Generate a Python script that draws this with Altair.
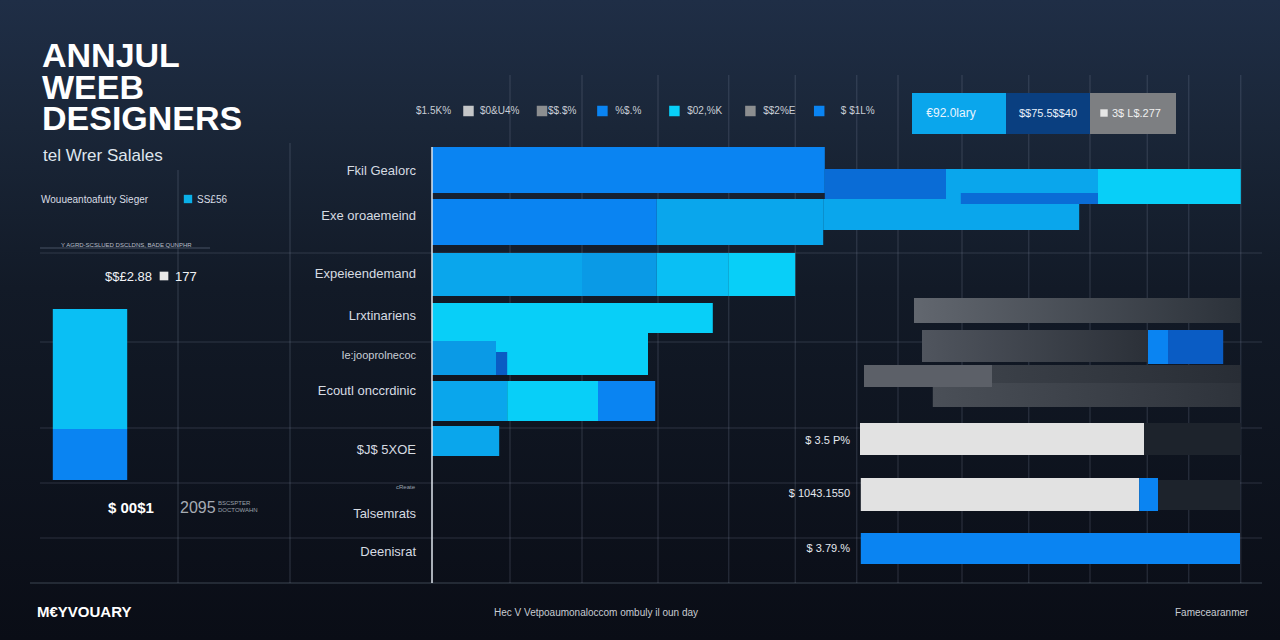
import altair as alt
import pandas as pd

# ---------------- data ----------------
# stacked / overlapping salary segments (salary units, row-position units)
seg_start = [0, 49.1, 64.25, 83.25, 0, 28.1, 48.9, 0, 18.75, 28.1, 37.1, 0, 0, 0, 8, 0, 9.4, 20.75, 0,
             54, 89.5, 92, 53.5, 89, 53.6, 88.4, 90.75, 53.6, -47.4, -47.4, 60, 71.75, 82.25, 66.1]
seg_end = [49.1, 64.25, 83.25, 101.1, 28.1, 48.9, 80.9, 18.75, 28.1, 37.1, 45.4, 35.1, 27, 8, 9.4, 9.4, 20.75, 27.9, 8.4,
           70, 92, 98.9, 89, 101.1, 88.4, 90.75, 101, 101, -38.1, -38.1, 71.75, 82.25, 93, 83.25]
seg_top = [14.7, 16.9, 16.9, 16.9, 19.9, 19.9, 19.9, 25.3, 25.3, 25.3, 25.3, 30.3, 33.3, 34.1, 35.2, 38.1, 38.1, 38.1, 42.6,
           36.5, 33.0, 33.0, 42.3, 42.3, 47.8, 47.8, 48.0, 53.3, 30.9, 42.9, 9.3, 9.3, 9.3, 19.3]
seg_bottom = [19.3, 20.4, 20.4, 20.4, 24.5, 24.5, 23.0, 29.6, 29.6, 29.6, 29.6, 33.3, 37.5, 37.5, 37.5, 42.1, 42.1, 42.1, 45.6,
              38.7, 36.4, 36.4, 45.5, 45.5, 51.1, 51.1, 51.0, 56.4, 42.9, 48.0, 13.4, 13.4, 13.4, 20.4]
seg_tier = ["blue", "deep", "sky", "cyan", "blue", "sky", "sky", "sky", "mid", "aqua", "cyan", "cyan", "cyan", "mid", "navy",
            "sky", "cyan", "blue", "sky", "grey", "blue", "navy", "light", "dark", "light", "blue", "dark", "blue",
            "aqua", "blue", "sky", "ink", "steel", "deep"]

tier_names = ["blue", "deep", "sky", "mid", "cyan", "aqua", "navy", "light", "grey", "dark", "ink", "steel", "silver", "ash"]
tier_colors = ["#0a84f2", "#0a6cd6", "#0aa6ec", "#0a9ae6", "#08cff8", "#0abff4", "#0a5cc4", "#e2e2e2", "#5c6068",
               "#1d232c", "#0a3f80", "#7d7f82", "#c4c6c8", "#8c8e90"]

# faded grey bars (start, end, top, bottom)
fade_start = [60.25, 61.25, 70, 62.6]
fade_end = [101.1, 89.5, 101.1, 101.1]
fade_top = [29.8, 33.0, 36.5, 38.3]
fade_bottom = [32.3, 36.2, 38.4, 40.7]

# row labels
row_labels = ["Fkil Gealorc", "Exe oroaemeind", "Expeieendemand", "Lrxtinariens", "Ecoutl onccrdinic",
              "$J$ 5XOE", "Talsemrats", "Deenisrat"]
row_label_y = [17.1, 21.6, 27.4, 31.6, 39.1, 45.0, 51.4, 55.2]

# value labels on the right bars
value_labels = ["$ 3.5 P%", "$ 1043.1550", "$ 3.79.%"]
value_label_y = [44.1, 49.4, 54.9]

# top legend
legend_labels = ["$1.5K%", "$0&U4%", "$$.$%", "%$.%", "$02,%K", "$$2%E", "$ $1L%"]
legend_label_x = [-2, 6, 14.5, 22.9, 31.9, 41.4, 51.1]
legend_sq_x = [4.56, 13.75, 21.3, 30.3, 39.8, 48.4]
legend_sq_tier = ["silver", "ash", "blue", "cyan", "ash", "blue"]

# grid
grid_x = [9.75, 18.75, 28.25, 37.1, 45.4, 53.1, 58.25, 66.25, 74.6, 82.25, 89.4, 94.6, 101.1]
grid_y = [25.3, 34.2, 42.8, 48.3, 53.8]

FONT = "Liberation Sans"
xs = alt.Scale(domain=[-54, 106], nice=False, zero=False)
ys = alt.Scale(domain=[0, 64], reverse=True, nice=False, zero=False)
tier_scale = alt.Scale(domain=tier_names, range=tier_colors)
ONE = alt.Data(values=[{"a": 1}])

seg_df = pd.DataFrame({"start": seg_start, "end": seg_end, "top": seg_top, "bottom": seg_bottom, "tier": seg_tier})


def txt(s, x, y, size=12, color="#d8dde4", weight="normal", align="left", font=FONT, **kw):
    return alt.Chart(ONE).mark_text(x=x, y=y, fontSize=size, color=color, fontWeight=weight, align=align,
                                    baseline="alphabetic", font=font, **kw).encode(text=alt.value(s))


layers = []

# background
layers.append(alt.Chart(ONE).mark_rect(color=alt.Gradient(
    gradient="linear", x1=0, x2=0, y1=0, y2=1,
    stops=[alt.GradientStop(color="#1f2e46", offset=0), alt.GradientStop(color="#1a2638", offset=0.2),
           alt.GradientStop(color="#121a27", offset=0.45), alt.GradientStop(color="#0a0d16", offset=1)]
)).encode(x=alt.value(0), x2=alt.value(1280), y=alt.value(0), y2=alt.value(640)))

# grid lines
grid_col = "#8895a8"
layers.append(alt.Chart(pd.DataFrame({"g": grid_x})).mark_rule(color=grid_col, opacity=0.28, strokeWidth=1).encode(
    x=alt.X("g:Q", scale=xs, axis=None), y=alt.value(75), y2=alt.value(583)))
layers.append(alt.Chart(pd.DataFrame({"h": grid_y})).mark_rule(color=grid_col, opacity=0.25, strokeWidth=1).encode(
    y=alt.Y("h:Q", scale=ys, axis=None), x=alt.value(40), x2=alt.value(1262)))
layers.append(alt.Chart(ONE).mark_rule(color=grid_col, opacity=0.3).encode(
    x=alt.value(178), y=alt.value(170), y2=alt.value(583)))
layers.append(alt.Chart(ONE).mark_rule(color=grid_col, opacity=0.3).encode(
    x=alt.value(290), y=alt.value(143), y2=alt.value(583)))
layers.append(alt.Chart(ONE).mark_rule(color=grid_col, opacity=0.45).encode(
    x=alt.value(40), x2=alt.value(210), y=alt.value(248)))
layers.append(alt.Chart(ONE).mark_rule(color=grid_col, opacity=0.4).encode(
    x=alt.value(30), x2=alt.value(1262), y=alt.value(583)))

# faded grey bars
fade_colors = [("#62676f", "#2c323a"), ("#50555e", "#2b3038"), ("#3b4048", "#282d35"), ("#4a4f57", "#2e333b")]
for i in range(len(fade_start)):
    d = pd.DataFrame({"start": [fade_start[i]], "end": [fade_end[i]], "top": [fade_top[i]], "bottom": [fade_bottom[i]]})
    c1, c2 = fade_colors[i]
    layers.append(alt.Chart(d).mark_rect(color=alt.Gradient(
        gradient="linear", x1=0, x2=1, y1=0, y2=0,
        stops=[alt.GradientStop(color=c1, offset=0), alt.GradientStop(color=c2, offset=1)])).encode(
        x=alt.X("start:Q", scale=xs, axis=None), x2="end",
        y=alt.Y("top:Q", scale=ys, axis=None), y2="bottom"))

# main segments
layers.append(alt.Chart(seg_df).mark_rect().encode(
    x=alt.X("start:Q", scale=xs, axis=None), x2="end",
    y=alt.Y("top:Q", scale=ys, axis=None), y2="bottom",
    color=alt.Color("tier:N", scale=tier_scale, legend=None)))

# axis line
layers.append(alt.Chart(ONE).mark_rule(color="#dfe6ee", strokeWidth=1.5).encode(
    x=alt.value(432), y=alt.value(147), y2=alt.value(583)))

# legend squares
layers.append(alt.Chart(pd.DataFrame({"x": legend_sq_x, "tier": legend_sq_tier, "y": [11.1] * 6})).mark_square(
    size=110, opacity=1).encode(
    x=alt.X("x:Q", scale=xs, axis=None), y=alt.Y("y:Q", scale=ys, axis=None),
    color=alt.Color("tier:N", scale=tier_scale, legend=None)))
layers.append(alt.Chart(pd.DataFrame({"x": legend_label_x, "t": legend_labels, "y": [11.1] * 7})).mark_text(
    align="left", baseline="middle", fontSize=10, color="#c9ced6", font=FONT).encode(
    x=alt.X("x:Q", scale=xs, axis=None), y=alt.Y("y:Q", scale=ys, axis=None), text="t:N"))

# row labels
layers.append(alt.Chart(pd.DataFrame({"t": row_labels, "y": row_label_y, "x": [-2] * len(row_labels)})).mark_text(
    align="right", baseline="middle", fontSize=13, color="#d6dbe2", font=FONT).encode(
    x=alt.X("x:Q", scale=xs, axis=None), y=alt.Y("y:Q", scale=ys, axis=None), text="t:N"))
layers.append(txt("Ie:jooprolnecoc", 416, 359, size=11, color="#c9ced6", align="right"))
layers.append(txt("cReate", 415, 489, size=6, color="#9aa2ae", align="right"))

# value labels
layers.append(alt.Chart(pd.DataFrame({"t": value_labels, "y": value_label_y, "x": [52.25] * 3})).mark_text(
    align="right", baseline="middle", fontSize=11, color="#e4e8ee", font=FONT).encode(
    x=alt.X("x:Q", scale=xs, axis=None), y=alt.Y("y:Q", scale=ys, axis=None), text="t:N"))

# legend box texts
layers.append(txt("€92.0lary", 951, 117, size=12, color="#e8f4ff", align="center"))
layers.append(txt("$$75.5$$40", 1048, 117, size=11, color="#e8f0fa", align="center"))
layers.append(alt.Chart(ONE).mark_square(size=55, color="#e6e6e6", opacity=1).encode(
    x=alt.value(1104), y=alt.value(113)))
layers.append(txt("3$ L$.277", 1112, 117, size=11, color="#f0f0f0"))

# title block (one multi-line text)
layers.append(alt.Chart(ONE).mark_text(
    x=42, y=67, fontSize=34, color="#ffffff", fontWeight="bold", align="left", baseline="alphabetic",
    font=FONT, lineBreak="\n", lineHeight=31.5
).encode(text=alt.value("ANNJUL\nWEEB\n\u2009DESIGNERS")))
layers.append(txt("tel Wrer Salales", 43, 161, size=17, color="#dfe6ee"))
layers.append(txt("Wouueantoafutty Sieger", 41, 203, size=10, color="#d8dde4"))
layers.append(alt.Chart(ONE).mark_square(size=70, color="#0ab0e8", opacity=1).encode(
    x=alt.value(188), y=alt.value(199)))
layers.append(txt("SS£56", 197, 203, size=10, color="#d8dde4"))
layers.append(txt("Y AGRD-SCSLUED DSCLDNS, BADE QUNPHR", 61, 247, size=6, color="#b8bec8"))
layers.append(txt("$$£2.88", 105, 281, size=13, color="#f0f2f5"))
layers.append(alt.Chart(ONE).mark_square(size=75, color="#e8e8e8", opacity=1).encode(
    x=alt.value(164), y=alt.value(276)))
layers.append(txt("177", 175, 281, size=13, color="#f0f2f5"))
layers.append(txt("$ 00$1", 108, 513, size=15, color="#ffffff", weight="bold"))
layers.append(txt("2095", 180, 513, size=16, color="#a6abb3"))
layers.append(txt("BSCSPTER", 218, 505, size=6, color="#9aa0a8"))
layers.append(txt("DOCTOWAHN", 218, 512, size=6, color="#9aa0a8"))

# footer
layers.append(txt("M€YVOUARY", 37, 617, size=15, color="#ffffff", weight="bold"))
layers.append(txt("Hec V Vetpoaumonaloccom ombuly il oun day", 494, 616, size=10, color="#c8ccd2"))
layers.append(txt("Famecearanmer", 1175, 616, size=10, color="#c8ccd2"))

chart = alt.layer(*layers).properties(
    width=1280, height=640, autosize=alt.AutoSizeParams(type="none"), padding=0, background="#0d1420"
).configure_view(stroke=None)

chart.save("out.html", embed_options={"renderer": "svg", "actions": False})
